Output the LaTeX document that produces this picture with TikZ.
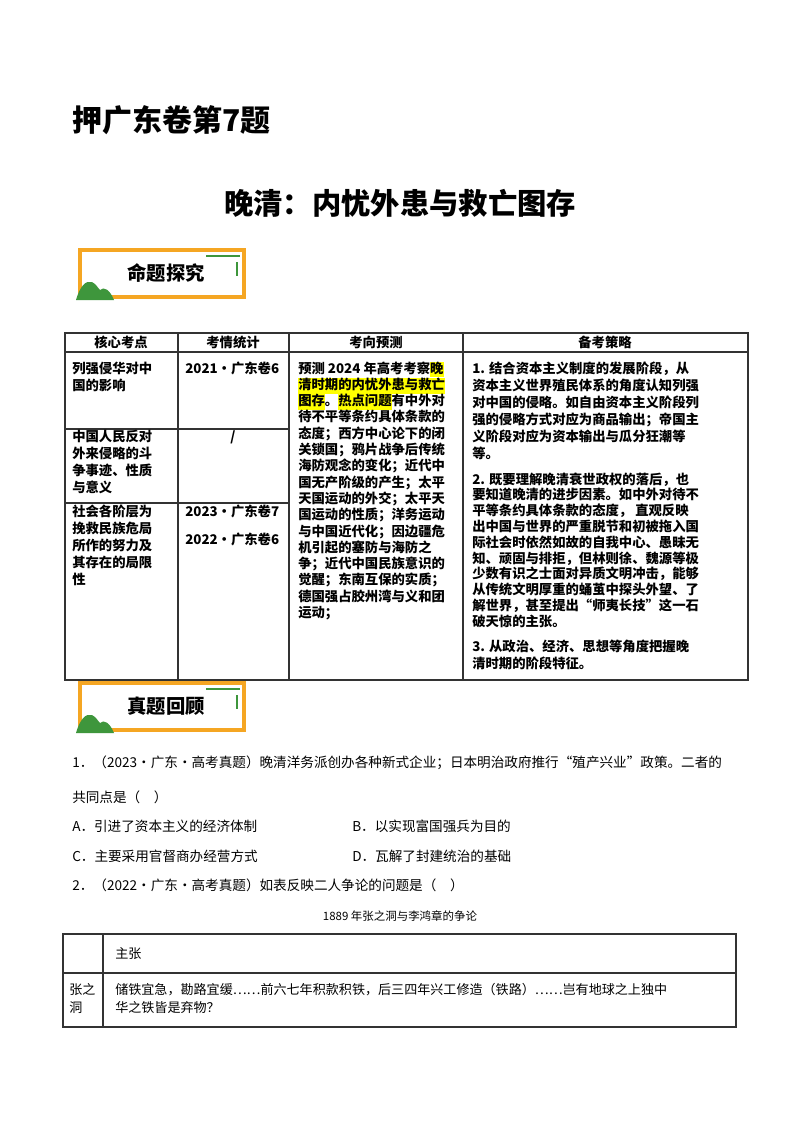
\documentclass[tikz,border=0pt]{standalone}
\usepackage{fontspec}
\setmainfont{Noto Sans CJK SC}
\definecolor{bor}{RGB}{245,166,35}
\definecolor{bgreen}{RGB}{62,150,60}
\definecolor{hly}{RGB}{255,255,0}
\newcommand{\hlt}[1]{{\setlength{\fboxsep}{0pt}\colorbox{hly}{\strut #1}}}
\begin{document}
\begin{tikzpicture}[x=0.75pt,y=-0.75pt,
  tx/.style={anchor=base west,inner sep=0pt,font=\fontsize{10}{11}\selectfont\bfseries},
  qx/.style={anchor=base west,inner sep=0pt,font=\fontsize{10.2}{12}\selectfont},
  grid/.style={line width=0.8pt,draw=black!80}]
\useasboundingbox (0,0) rectangle (800,1132);
\fill[white] (0,0) rectangle (800,1132);
% titles
\node[anchor=base west,inner sep=0pt,font=\fontsize{22.5}{25}\selectfont\bfseries] (t1) at (72,131) {押广东卷第7题};
\node[anchor=base,inner sep=0pt,font=\fontsize{22}{25}\selectfont\bfseries] (t2) at (400,214) {晚清：内忧外患与救亡图存};
% badges
\foreach \yy/\lab [count=\k] in {250/命题探究,683/真题回顾}{
  \draw[bor,line width=3pt] (80,\yy) rectangle (244,\yy+47);
  \draw[bgreen,line width=1.5pt] (206,\yy+6) -- (240,\yy+6);
  \draw[bgreen,line width=1.5pt] (237,\yy+12) -- (237,\yy+26);
  \fill[bgreen] (76,\yy+50) .. controls (80,\yy+36) and (86,\yy+30) .. (92,\yy+32) .. controls (96,\yy+34) and (98,\yy+38) .. (100,\yy+40) .. controls (104,\yy+36) and (110,\yy+40) .. (114,\yy+50) -- cycle;
  \node[inner sep=0pt,font=\fontsize{14.5}{16}\selectfont\bfseries] (b\k) at (166,\yy+23) {\lab};
}
% main table
\draw[grid] (65,333) rectangle (748,680);
\draw[grid] (65,352) -- (748,352);
\foreach \xx in {178,289,463}{\draw[grid] (\xx,333) -- (\xx,680);}
\draw[grid] (65,429) -- (289,429);
\draw[grid] (65,503) -- (289,503);
\node[tx,anchor=base] (h1) at (121,347) {核心考点};
\node[tx,anchor=base] (h2) at (233,347) {考情统计};
\node[tx,anchor=base] (h3) at (376,347) {考向预测};
\node[tx,anchor=base] (h4) at (605,347) {备考策略};
% col1
\foreach \t/\yy [count=\i] in {列强侵华对中/373,国的影响/390,中国人民反对/441,外来侵略的斗/458,争事迹、性质/475,与意义/492,社会各阶层为/516,挽救民族危局/533,所作的努力及/550,其存在的局限/567,性/584}
  \node[tx] (a\i) at (72,\yy) {\t};
\node[tx] (s1) at (185,373) {2021·广东卷6};
\node[tx,anchor=base] (s2) at (233,441) {/};
\node[tx] (s3) at (185,516) {2023·广东卷7};
\node[tx] (s4) at (185,544) {2022·广东卷6};
% col3
\node[tx] (p1) at (298,373) {预测 2024 年高考考察\hlt{晚}};
\node[tx] (p2) at (298,389.3) {\hlt{清时期的内忧外患与救亡}};
\node[tx] (p3) at (298,405.6) {\hlt{图存}。\hlt{热点问题}有中外对};
\foreach \t [count=\i] in {待不平等条约具体条款的,态度；西方中心论下的闭,关锁国；鸦片战争后传统,海防观念的变化；近代中,国无产阶级的产生；太平,天国运动的外交；太平天,国运动的性质；洋务运动,与中国近代化；因边疆危,机引起的塞防与海防之,争；近代中国民族意识的,觉醒；东南互保的实质；,德国强占胶州湾与义和团,运动；}
  \node[tx] (pp\i) at (298,405.6+16.3*\i) {\t};
% col4
\foreach \t [count=\i] in {1. 结合资本主义制度的发展阶段，从,资本主义世界殖民体系的角度认知列强,对中国的侵略。如自由资本主义阶段列,强的侵略方式对应为商品输出；帝国主,义阶段对应为资本输出与瓜分狂潮等,等。}
  \node[tx] (r\i) at (472,356+17*\i) {\t};
\foreach \t [count=\i] in {2. 既要理解晚清衰世政权的落后，也,要知道晚清的进步因素。如中外对待不,平等条约具体条款的态度， 直观反映,出中国与世界的严重脱节和初被拖入国,际社会时依然如故的自我中心、愚昧无,知、顽固与排拒，但林则徐、魏源等极,少数有识之士面对异质文明冲击，能够,从传统文明厚重的蛹茧中探头外望、了,解世界，甚至提出“师夷长技”这一石,破天惊的主张。}
  \node[tx] (u\i) at (472,468.2+15.8*\i) {\t};
\node[tx] (v1) at (472,651) {3. 从政治、经济、思想等角度把握晚};
\node[tx] (v2) at (472,668) {清时期的阶段特征。};
% questions
\node[qx] (q1) at (72,767) {1．（2023·广东·高考真题）晚清洋务派创办各种新式企业；日本明治政府推行“殖产兴业”政策。二者的};
\node[qx] (q2) at (72,802) {共同点是（\quad ）};
\node[qx] (qa) at (72,831) {A．引进了资本主义的经济体制};
\node[qx] (qb) at (352,831) {B．以实现富国强兵为目的};
\node[qx] (qc) at (72,861) {C．主要采用官督商办经营方式};
\node[qx] (qd) at (352,861) {D．瓦解了封建统治的基础};
\node[qx] (q3) at (72,890) {2．（2022·广东·高考真题）如表反映二人争论的问题是（\quad ）};
\node[anchor=base,inner sep=0pt,font=\fontsize{8.6}{10}\selectfont] (cap) at (400,920) {1889 年张之洞与李鸿章的争论};
% bottom table
\draw[grid] (63,934) rectangle (736,1027);
\draw[grid] (63,973) -- (736,973);
\draw[grid] (103,934) -- (103,1027);
\node[qx,font=\fontsize{9.8}{11}\selectfont] (m1) at (115,958) {主张};
\node[qx,font=\fontsize{9.8}{11}\selectfont] (m2) at (69,994) {张之};
\node[qx,font=\fontsize{9.8}{11}\selectfont] (m3) at (69,1012) {洞};
\node[qx,font=\fontsize{9.8}{11}\selectfont] (m4) at (115,994) {储铁宜急，勘路宜缓……前六七年积款积铁，后三四年兴工修造（铁路）……岂有地球之上独中};
\node[qx,font=\fontsize{9.8}{11}\selectfont] (m5) at (115,1012) {华之铁皆是弃物？};
\end{tikzpicture}
\end{document}
